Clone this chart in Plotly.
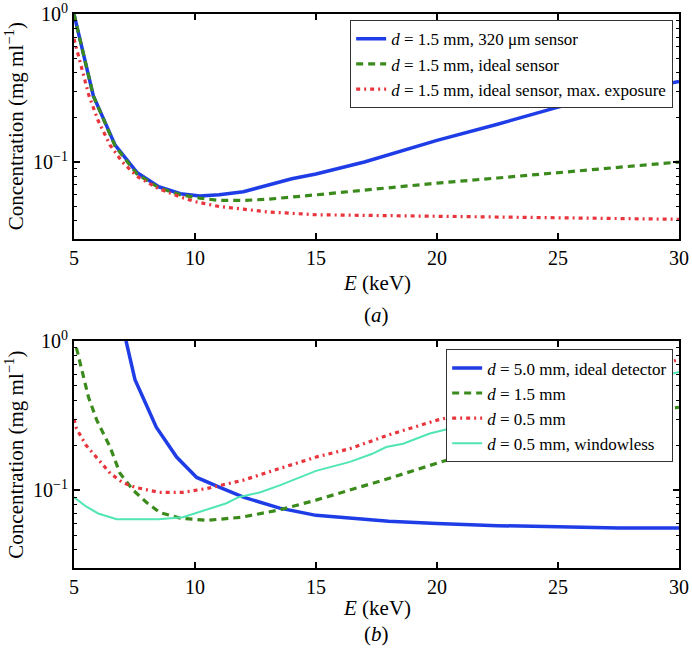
import plotly.graph_objects as go
from plotly.subplots import make_subplots

# ---------- data (a) ----------
a_blue_x = [5, 5.8, 6.7, 7.6, 8.5, 9.4, 10.2, 11, 12, 13, 14, 15, 17, 20, 22.5, 25, 27.5, 30]
a_blue_y = [1.0, 0.28, 0.13, 0.085, 0.068, 0.061, 0.059, 0.06, 0.063, 0.07, 0.077, 0.083, 0.1, 0.14, 0.18, 0.235, 0.29, 0.35]

a_green_x = [5, 5.8, 6.7, 7.6, 8.5, 9.4, 10.2, 11, 12, 13, 15, 17.5, 20, 22.5, 25, 27.5, 30]
a_green_y = [1.0, 0.28, 0.128, 0.083, 0.067, 0.06, 0.057, 0.055, 0.055, 0.056, 0.06, 0.066, 0.072, 0.078, 0.085, 0.092, 0.1]

a_red_x = [5, 5.17, 5.4, 5.62, 6.0, 6.49, 7.0, 7.6, 8.5, 9.4, 10, 11, 12, 13, 15, 17.5, 20, 25, 30]
a_red_y = [0.68, 0.53, 0.38, 0.28, 0.19, 0.13, 0.1, 0.08, 0.066, 0.058, 0.054, 0.050, 0.048, 0.046, 0.044, 0.0435, 0.043, 0.042, 0.041]

# ---------- data (b) ----------
b_blue_x = [7.15, 7.52, 8.0, 8.4, 9.24, 10.07, 11, 12, 13.5, 15, 16.5, 18, 20, 22.5, 25, 27.5, 30]
b_blue_y = [1.0, 0.55, 0.37, 0.265, 0.167, 0.122, 0.105, 0.09, 0.076, 0.068, 0.065, 0.062, 0.06, 0.058, 0.057, 0.056, 0.056]

b_green_x = [5.1, 5.6, 5.94, 6.49, 6.9, 7.45, 8.0, 8.55, 9.4, 10.5, 11.9, 13.5, 15, 16.4, 18, 20, 22.5, 25, 27.5, 30]
b_green_y = [0.9, 0.42, 0.295, 0.195, 0.13, 0.1, 0.083, 0.071, 0.065, 0.063, 0.066, 0.074, 0.086, 0.1, 0.12, 0.152, 0.2, 0.265, 0.31, 0.36]

b_red_x = [5, 5.1, 5.5, 6, 6.5, 7, 7.5, 8.5, 9.5, 10.5, 12, 13.5, 15, 16.4, 18, 20, 22.5, 25, 27.5, 30]
b_red_y = [0.3, 0.26, 0.2, 0.16, 0.13, 0.113, 0.105, 0.097, 0.097, 0.103, 0.117, 0.14, 0.167, 0.19, 0.235, 0.295, 0.37, 0.46, 0.58, 0.75]

b_cyan_x = [5, 5.5, 6, 6.76, 7.5, 8.5, 9.5, 10.5, 11.3, 11.8, 12.7, 13.5, 15, 16.4, 17.3, 17.9, 18.6, 19.7, 22.5, 25, 27.5, 30]
b_cyan_y = [0.09, 0.078, 0.07, 0.064, 0.064, 0.064, 0.066, 0.074, 0.082, 0.09, 0.097, 0.108, 0.135, 0.155, 0.175, 0.195, 0.205, 0.24, 0.31, 0.39, 0.49, 0.62]

x_ticks = [5, 10, 15, 20, 25, 30]
y_major = [0.1, 1]
y_major_text = ["10<sup>\u22121</sup>", "10<sup>0</sup>"]
y_minor = [0.03, 0.04, 0.05, 0.06, 0.07, 0.08, 0.09, 0.2, 0.3, 0.4, 0.5, 0.6, 0.7, 0.8, 0.9]

BLUE = "#1f3de6"
GREEN = "#3a8a1c"
RED = "#e8343c"
CYAN = "#50e6b4"
FONT = "Liberation Serif, Times New Roman, DejaVu Serif, serif"

fig = make_subplots(rows=2, cols=1, vertical_spacing=0.184)

def add(x, y, name, color, width, dash, row, legend):
    fig.add_trace(go.Scatter(x=x, y=y, mode="lines", name=name,
                             line=dict(color=color, width=width, dash=dash),
                             legend=legend, showlegend=True), row=row, col=1)

add(a_blue_x, a_blue_y, "<i>d</i> = 1.5 mm, 320 \u03bcm sensor", BLUE, 3.5, "solid", 1, "legend")
add(a_green_x, a_green_y, "<i>d</i> = 1.5 mm, ideal sensor", GREEN, 3.2, "7px,5px", 1, "legend")
add(a_red_x, a_red_y, "<i>d</i> = 1.5 mm, ideal sensor, max. exposure", RED, 3.2, "4px,4px,2px,4px", 1, "legend")

add(b_blue_x, b_blue_y, "<i>d</i> = 5.0 mm, ideal detector", BLUE, 3.5, "solid", 2, "legend2")
add(b_green_x, b_green_y, "<i>d</i> = 1.5 mm", GREEN, 3.2, "7px,5px", 2, "legend2")
add(b_red_x, b_red_y, "<i>d</i> = 0.5 mm", RED, 3.2, "4px,4px,2px,4px", 2, "legend2")
add(b_cyan_x, b_cyan_y, "<i>d</i> = 0.5 mm, windowless", CYAN, 2, "solid", 2, "legend2")

for r in (1, 2):
    fig.update_xaxes(row=r, col=1, range=[5, 30], tickvals=x_ticks, automargin=False,
                     ticks="inside", ticklen=6, tickwidth=1.5, tickcolor="black",
                     showline=True, linecolor="black", linewidth=2, mirror="ticks",
                     showgrid=False, zeroline=False,
                     tickfont=dict(family=FONT, size=20, color="black"))
    fig.update_yaxes(row=r, col=1, type="log", range=[-1.52, 0.0008], automargin=False,
                     tickvals=y_major, ticktext=y_major_text,
                     ticks="inside", ticklen=6, tickwidth=1.5, tickcolor="black",
                     minor=dict(tickvals=y_minor, ticks="inside", ticklen=3, tickwidth=1, tickcolor="black", showgrid=False),
                     showline=True, linecolor="black", linewidth=2, mirror="ticks",
                     showgrid=False, zeroline=False,
                     tickfont=dict(family=FONT, size=20, color="black"))

fig.update_yaxes(row=1, col=1, domain=[0.594, 1.0])
fig.update_yaxes(row=2, col=1, domain=[0.0, 0.41])

annots = [
    dict(text="<i>E</i> (keV)", x=0.5, y=0.514),
    dict(text="(<i>a</i>)", x=0.5, y=0.457),
    dict(text="<i>E</i> (keV)", x=0.5, y=-0.072),
    dict(text="(<i>b</i>)", x=0.5, y=-0.119),
]
for a in annots:
    fig.add_annotation(xref="paper", yref="paper", showarrow=False,
                       xanchor="center", yanchor="middle",
                       font=dict(family=FONT, size=21, color="black"), **a)
for yc in (0.797, 0.204):
    fig.add_annotation(xref="paper", yref="paper", showarrow=False,
                       x=-0.098, y=yc, xanchor="center", yanchor="middle", textangle=-90,
                       text="Concentration (mg ml<sup>\u22121</sup>)",
                       font=dict(family=FONT, size=21, color="black"))

legend_style = dict(bgcolor="white", bordercolor="#333333", borderwidth=1.2,
                    font=dict(family=FONT, size=17, color="black"),
                    xanchor="right", yanchor="top", tracegroupgap=0, itemwidth=30)
fig.update_layout(
    width=692, height=652,
    margin=dict(l=74, r=13, t=14, b=84, autoexpand=False),
    paper_bgcolor="white", plot_bgcolor="white",
    font=dict(family=FONT, color="black"),
    legend=dict(x=0.99, y=0.989, **legend_style),
    legend2=dict(x=0.99, y=0.395, **legend_style),
)

fig.write_html("out.html", config={"displayModeBar": False},
               post_script="document.body.style.margin='0';")
